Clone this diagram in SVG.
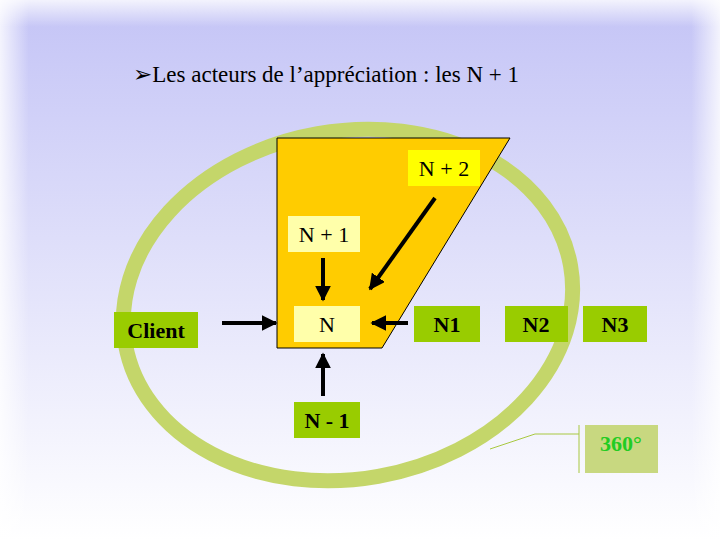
<svg xmlns="http://www.w3.org/2000/svg" width="720" height="540" viewBox="0 0 720 540">
<defs>
<linearGradient id="bg" x1="0" y1="0" x2="0" y2="1"><stop offset="0" stop-color="#c4c4f6"/><stop offset="1" stop-color="#ffffff"/></linearGradient>
<linearGradient id="fl" x1="0" y1="0" x2="1" y2="0"><stop offset="0" stop-color="#fff" stop-opacity="0.8"/><stop offset="0.04" stop-color="#fff" stop-opacity="0"/><stop offset="0.96" stop-color="#fff" stop-opacity="0"/><stop offset="1" stop-color="#fff" stop-opacity="0.8"/></linearGradient>
<linearGradient id="ft" x1="0" y1="0" x2="0" y2="1"><stop offset="0" stop-color="#fff" stop-opacity="0.8"/><stop offset="0.05" stop-color="#fff" stop-opacity="0"/></linearGradient>
<marker id="ah" viewBox="0 0 10 10" refX="9" refY="5" markerWidth="4" markerHeight="4" orient="auto"><path d="M0,0L10,5L0,10z" fill="#000"/></marker>
<style>
.t{font-family:"Liberation Serif",serif;font-size:22px;text-anchor:middle;fill:#000}
.b{font-weight:bold}
.g{fill:#99cc00}
.a{stroke:#000;stroke-width:4;marker-end:url(#ah)}
</style>
</defs>
<rect width="720" height="540" fill="url(#bg)"/>
<rect width="720" height="540" fill="url(#fl)"/>
<rect width="720" height="540" fill="url(#ft)"/>
<text x="133" y="82" style="font-family:'Liberation Serif','DejaVu Sans',serif;font-size:23px">➢Les acteurs de l’appréciation : les N + 1</text>
<g id="ring"><ellipse cx="348" cy="305" rx="226" ry="174" transform="rotate(-10 348 305)" fill="none" stroke="#c4d66a" stroke-width="15"/></g>
<g id="trap"><polygon points="277,138 510,138 382,348 277,348" fill="#ffcc00" stroke="#000" stroke-width="1"/></g>
<g id="n2"><rect x="408" y="150" width="72" height="36" fill="#ffff00"/><text class="t" x="444" y="176">N + 2</text></g>
<g id="n1p"><rect x="288" y="216" width="72" height="36" fill="#ffffaa"/><text class="t" x="324" y="242">N + 1</text></g>
<g id="n"><rect x="294" y="306" width="66" height="36" fill="#ffffaa"/><text class="t" x="327" y="332">N</text></g>
<g id="client"><rect class="g" x="114" y="312" width="84" height="36"/><text class="t b" x="156" y="338">Client</text></g>
<g id="N1"><rect class="g" x="414" y="306" width="66" height="36"/><text class="t b" x="447" y="332">N1</text></g>
<g id="N2"><rect class="g" x="505" y="306" width="63" height="36"/><text class="t b" x="536" y="332">N2</text></g>
<g id="N3"><rect class="g" x="583" y="306" width="64" height="36"/><text class="t b" x="615" y="332">N3</text></g>
<g id="nm1"><rect class="g" x="294" y="402" width="66" height="36"/><text class="t b" x="327" y="428">N - 1</text></g>
<g id="deg"><rect x="585" y="425" width="73" height="48" fill="#c8d880"/><line x1="579" y1="425" x2="579" y2="473" stroke="#a8c840"/><text class="t b" x="621" y="451" style="fill:#22cc22">360°</text></g>
<g id="connectors" fill="none">
<line class="a" x1="222" y1="323" x2="276" y2="323"/>
<line class="a" x1="323" y1="258" x2="323" y2="300"/>
<line class="a" x1="435" y1="198" x2="370" y2="289"/>
<line class="a" x1="408" y1="323" x2="372" y2="323"/>
<line class="a" x1="323" y1="396" x2="323" y2="354"/>
<polyline points="490,449 535,434 579,434" stroke="#a8c840" stroke-width="1"/>
</g>
</svg>
